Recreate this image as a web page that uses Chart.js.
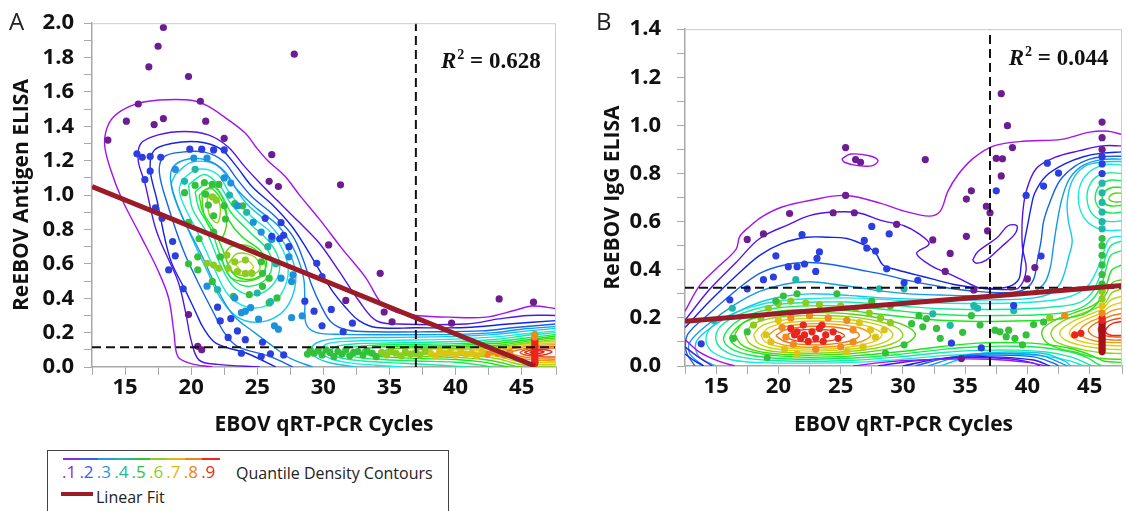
<!DOCTYPE html>
<html>
<head>
<meta charset="utf-8">
<script src="https://cdn.jsdelivr.net/npm/chart.js@4.4.0/dist/chart.umd.min.js"></script>
<style>
  body { margin:0; width:1126px; height:511px; overflow:hidden; background:#fff; position:relative; font-family:'Open Sans', sans-serif; }
  .panel { position:absolute; top:0; }
  .tag { position:absolute; top:4px; font-size:24px; color:#222; font-family:'Open Sans', sans-serif; }
  #legend { position:absolute; left:47px; top:450px; width:402px; height:62px; border:1px solid #444; box-sizing:border-box; }
  #legend .bar { position:absolute; left:15px; top:7px; display:flex; }
  #legend .bar div { width:17.4px; height:2px; }
  #legend .nums { position:absolute; left:14px; top:11px; display:flex; font-size:17px; line-height:20px; }
  #legend .nums span { width:17.4px; }
  #legend .txt { position:absolute; font-size:16px; line-height:20px; color:#222; }
  #legend .fit { position:absolute; left:13px; top:41px; width:32px; height:4px; background:#9b1b27; }
</style>
</head>
<body>
<div class="panel" style="left:0;width:560px;height:440px"><canvas id="chartA" width="560" height="440"></canvas></div>
<div class="panel" style="left:600px;width:526px;height:440px"><canvas id="chartB" width="526" height="440"></canvas></div>
<div class="tag" style="left:9px">A</div>
<div class="tag" style="left:596px">B</div>
<div id="legend">
  <div class="bar" id="legendBar"></div>
  <div class="nums" id="legendNums"></div>
  <div class="txt" style="left:188px;top:12px">Quantile Density Contours</div>
  <div class="fit"></div>
  <div class="txt" style="left:48px;top:36px">Linear Fit</div>
</div>
<script>
// ---- data: panel A (antigen ELISA) ----
const aPts1 = [[17.9,1.975],[17.5,1.866],[16.8,1.746],[19.8,1.69],[27.8,1.82],[20.7,1.546],[16.0,1.53],[15.1,1.43],[17.2,1.41],[17.9,1.445],[21.1,1.43],[13.7,1.32],[22.5,1.33],[26.1,1.235],[25.9,1.08],[26.6,1.05],[31.3,1.06],[30.4,0.71],[34.3,0.545],[31.7,0.387],[34.6,0.32],[35.2,0.262],[39.7,0.255],[43.3,0.396],[45.9,0.377],[19.8,0.305],[20.5,0.12],[20.8,0.1]];
const aPts2 = [[15.9,1.24],[16.3,1.22],[16.9,1.225],[17.7,1.22],[16.5,1.09],[16.9,1.14],[17.8,0.866],[18.6,0.73],[18.8,0.647],[18.3,0.565],[19.4,0.455],[19.9,1.267],[20.8,1.267],[21.7,1.263],[22.5,1.263],[17.3,0.926],[25.6,0.865],[26.8,0.84],[27.0,0.766],[27.4,0.7],[26.1,0.76],[26.7,0.746],[29.5,0.603],[29.9,0.526],[28.6,0.383],[29.3,0.325],[30.6,0.335],[29.9,0.24],[31.5,0.205],[32.2,0.255],[22.0,0.348],[23.0,0.281],[23.5,0.21],[24.1,0.159],[25.4,0.144],[26.0,0.077],[25.3,0.061],[27.0,0.07],[23.8,0.08],[22.2,0.268],[22.8,0.172]];
const aPts3 = [[20.2,1.215],[21.2,1.215],[18.8,1.15],[22.5,1.1],[23.0,1.07],[23.5,0.938],[24.7,0.842],[25.3,0.785],[26.1,0.742],[27.4,0.641],[27.7,0.536],[26.8,0.517],[27.6,0.498],[28.4,0.297],[27.6,0.287],[26.3,0.24],[26.6,0.22],[25.1,0.278],[23.8,0.316],[23.3,0.402],[24.1,0.325],[24.5,0.345],[21.2,0.47]];
const aPts4 = [[19.5,1.08],[20.3,1.15],[22.9,1.0],[24.2,0.9],[25.8,0.7],[26.4,0.6],[22.0,0.45],[25.0,0.43],[26.0,0.38]];
const aPts5 = [[19.5,1.014],[20.3,1.056],[21.0,1.072],[21.6,1.062],[22.1,1.062],[21.1,1.005],[21.3,0.942],[21.7,0.88],[22.5,0.938],[22.6,0.861],[23.3,0.95],[23.9,0.938],[21.7,0.785],[20.6,0.746],[19.8,0.842],[20.5,0.641],[22.2,0.641],[25.3,0.612],[25.4,0.545],[25.9,0.517],[25.4,0.469],[24.4,0.421],[23.2,0.411],[25.9,0.373],[26.5,0.402],[21.6,0.498],[20.5,0.565],[19.8,0.6],
  [29.3,0.08],[29.6,0.095],[29.9,0.07],[30.2,0.1],[30.5,0.085],[30.8,0.06],[31.1,0.09],[31.4,0.075],[31.7,0.1],[32.0,0.065],[32.3,0.085],[32.6,0.09],[33.0,0.07],[33.3,0.095],[33.7,0.08],[34.0,0.06],[29.0,0.1],[28.8,0.075]];
const aPts6 = [[21.7,0.593],[21.2,0.603],[22.7,0.651],[23.3,0.612],[24.1,0.622],[24.6,0.545],[24.1,0.545],[23.5,0.555],[22.8,0.574],[22.1,0.574],[21.6,0.99],[21.9,0.97],
  [34.4,0.085],[34.8,0.07],[35.1,0.095],[35.5,0.08],[35.9,0.065],[36.2,0.09],[36.6,0.075],[37.0,0.085],[37.3,0.07],[37.7,0.095]];
const aPts7 = [[38.1,0.08],[38.5,0.065],[38.8,0.09],[39.2,0.075],[39.6,0.085],[40.0,0.07],[40.4,0.09],[40.8,0.075],[41.2,0.08],[41.6,0.065],[42.0,0.085]];
const aPts8 = [[42.4,0.075],[42.8,0.09],[43.2,0.08],[43.7,0.07],[44.1,0.085],[46,0.19],[46,0.175]];
const aPts9 = [[46,0.16],[46,0.145],[46,0.13],[46,0.115],[46,0.1],[46,0.085],[46,0.07],[46,0.055],[46,0.04],[46,0.03],[46,0.02]];

const aContourLevels = [1,2,3,4,5,6,7,8,9,10,11,12,13,14,15,16,17,18,19];
const aContourPaths = [
  [[21.6,0],[20,0.02],[19.0,0.06],[18.7,0.2],[18.3,0.4],[17.5,0.56],[16.2,0.76],[14.8,0.97],[13.9,1.15],[13.45,1.3],[13.8,1.42],[14.7,1.49],[16.3,1.54],[18.2,1.555],[20.1,1.55],[21.2,1.52],[22.5,1.455],[24.1,1.36],[24.9,1.28],[25.8,1.2],[27.1,1.11],[28.2,1.0],[29.7,0.86],[31.4,0.69],[33.2,0.52],[34.4,0.37],[35.5,0.32],[37.0,0.3],[39.5,0.29],[42.3,0.29],[44.5,0.33],[45.8,0.355],[47.6,0.34]],
  [[25.2,0],[22,0.015],[20.6,0.04],[20.0,0.155],[19.6,0.31],[19.0,0.5],[17.4,0.785],[16.5,1.07],[16.0,1.2],[16.2,1.3],[17.5,1.35],[19.5,1.37],[21.3,1.35],[22.8,1.28],[24,1.17],[25.2,1.07],[26.5,0.97],[28.2,0.84],[29.7,0.72],[31.2,0.556],[32.7,0.384],[34.0,0.27],[35.7,0.25],[40.8,0.25],[43.3,0.28],[45.5,0.3],[47.6,0.3]],
  [[26.4,0],[24.2,0.08],[21.9,0.137],[20.9,0.23],[20.4,0.31],[19.6,0.44],[18.4,0.632],[17.4,0.976],[16.9,1.15],[17.2,1.26],[18.5,1.3],[20.5,1.31],[22.2,1.27],[23.4,1.17],[24.6,1.05],[26.2,0.94],[27.6,0.82],[28.8,0.68],[29.8,0.55],[30.7,0.44],[31.7,0.345],[32.7,0.27],[34.0,0.23],[37,0.228],[40.8,0.23],[44,0.25],[47.6,0.27]],
  [[27.7,0],[26,0.06],[23.5,0.12],[22.5,0.2],[21.6,0.33],[20.6,0.48],[19.4,0.68],[18.2,0.95],[17.6,1.13],[17.9,1.22],[19.3,1.25],[21,1.25],[22.4,1.2],[23.4,1.1],[24.6,0.99],[26.3,0.88],[27.7,0.76],[28.5,0.62],[29.1,0.48],[29.8,0.36],[30.6,0.26],[31.8,0.215],[34,0.205],[38,0.205],[42,0.21],[44.5,0.23],[47.6,0.25]],
  [[29.2,0],[27.5,0.05],[26.2,0.12],[24.8,0.2],[23.2,0.3],[22,0.45],[20.8,0.65],[19.3,0.88],[18.5,1.06],[18.6,1.16],[19.8,1.21],[21.3,1.2],[22.5,1.14],[23.5,1.03],[25,0.92],[26.6,0.82],[27.8,0.68],[28.5,0.52],[28.6,0.38],[28.7,0.25],[29.5,0.2],[31.5,0.19],[35,0.188],[40,0.19],[43,0.2],[45,0.22],[47.6,0.235]],
  [[18.8,1.12],[20,1.19],[21.8,1.18],[23,1.08],[24.2,0.95],[25.8,0.84],[27.2,0.7],[27.9,0.55],[27.6,0.4],[26.6,0.3],[25,0.26],[23.5,0.29],[22.3,0.39],[21.2,0.56],[20,0.76],[18.9,0.95],[18.5,1.06],[18.8,1.12], null,
   [47.6,0.225],[45.5,0.21],[43,0.19],[40,0.178],[35,0.172],[31.5,0.168],[29.8,0.15],[29.1,0.11],[29.4,0.06],[30.5,0.025],[32.5,0]],
  [[19.3,1.09],[20.5,1.15],[22,1.12],[23,1.0],[24.5,0.88],[26.3,0.76],[27.3,0.6],[27,0.45],[25.8,0.36],[24.2,0.35],[22.8,0.42],[21.7,0.58],[20.5,0.78],[19.4,0.95],[19.1,1.03],[19.3,1.09], null,
   [47.6,0.21],[45.5,0.195],[43,0.175],[40,0.162],[35,0.155],[32,0.15],[30.3,0.135],[29.8,0.1],[30.2,0.06],[31.5,0.03],[34,0.01],[36,0]],
  [[19.8,1.06],[21,1.12],[22.2,1.05],[23,0.95],[24.5,0.83],[26,0.72],[26.7,0.6],[26.2,0.48],[24.8,0.42],[23.3,0.46],[22.3,0.58],[21.2,0.78],[20.1,0.92],[19.8,1.06], null,
   [47.6,0.2],[45.5,0.185],[43,0.16],[40,0.148],[35,0.14],[32.5,0.135],[31,0.12],[30.6,0.09],[31.2,0.055],[33,0.035],[36,0.022],[39,0.01],[41,0]],
  [[20.3,1.02],[21.3,1.07],[22.3,1.0],[23,0.9],[24.5,0.78],[25.8,0.68],[26.1,0.58],[25.5,0.5],[24.2,0.47],[23,0.52],[22.2,0.65],[21.5,0.8],[20.6,0.92],[20.3,1.02], null,
   [47.6,0.19],[45.5,0.17],[43,0.148],[40,0.136],[36,0.13],[33.5,0.125],[31.9,0.11],[31.6,0.085],[32.3,0.06],[34,0.045],[37,0.035],[40,0.028],[42,0.01],[42.8,0]],
  [[20.6,1.0],[21.5,1.04],[22.3,0.97],[22.8,0.86],[23.8,0.76],[25.2,0.68],[25.7,0.6],[25.2,0.53],[24.1,0.51],[23.1,0.55],[22.4,0.68],[21.7,0.8],[20.9,0.9],[20.6,1.0], null,
   [47.6,0.18],[45.6,0.16],[43.2,0.138],[40,0.126],[36,0.12],[34,0.115],[33,0.1],[33,0.08],[34.2,0.062],[37,0.05],[40,0.044],[42,0.03],[43.2,0.012],[44,0]],
  [[20.8,1.02],[21.7,1.05],[22.4,0.98],[22.7,0.85],[22.3,0.75],[21.7,0.78],[21.0,0.88],[20.8,1.02], null,
   [22.3,0.62],[23,0.7],[24.5,0.7],[25.5,0.62],[25.5,0.54],[24.3,0.5],[23,0.52],[22.3,0.62], null,
   [47.6,0.17],[45.6,0.152],[43.4,0.128],[40,0.118],[37,0.112],[35.2,0.105],[34.6,0.09],[35.3,0.072],[37.5,0.062],[40,0.056],[42,0.045],[43.5,0.025],[44.5,0.005],[45,0]],
  [[21.2,0.98],[21.8,1.0],[22.2,0.93],[22.0,0.84],[21.4,0.88],[21.2,0.98], null,
   [22.8,0.6],[23.5,0.66],[24.8,0.64],[25.2,0.57],[24.3,0.53],[23.2,0.55],[22.8,0.6], null,
   [47.6,0.16],[45.7,0.145],[43.6,0.122],[40.5,0.11],[38,0.105],[36.8,0.095],[37.2,0.078],[39,0.07],[41.5,0.063],[43.2,0.048],[44.3,0.025],[45.5,0.008],[47.6,0.005]],
  [[23.3,0.6],[24.2,0.62],[24.7,0.58],[24,0.55],[23.3,0.6], null,
   [47.6,0.15],[45.8,0.14],[43.8,0.118],[41.5,0.104],[39.5,0.098],[38.8,0.088],[39.8,0.078],[41.8,0.072],[43.4,0.058],[44.5,0.035],[45.8,0.018],[47.6,0.015]],
  [[47.6,0.14],[46,0.132],[44,0.112],[42.3,0.1],[41.2,0.09],[41.8,0.08],[43.2,0.07],[44.3,0.05],[45.5,0.03],[47.6,0.025]],
  [[47.6,0.13],[46,0.125],[44.4,0.108],[43.3,0.09],[43.8,0.07],[44.8,0.052],[46,0.04],[47.6,0.035]],
  [[47.6,0.12],[46,0.118],[44.8,0.1],[44.2,0.085],[44.8,0.065],[46,0.05],[47.6,0.045]],
  [[47.6,0.11],[46,0.11],[45.1,0.095],[44.9,0.082],[45.5,0.067],[46.5,0.06],[47.6,0.058]],
  [[45.2,0.085],[45.8,0.1],[46.6,0.102],[47.3,0.088],[46.6,0.07],[45.8,0.07],[45.2,0.085]],
  [[45.6,0.085],[46.1,0.095],[46.7,0.088],[46.1,0.077],[45.6,0.085]]
];
const aFitX = [12.5, 46.0];
const aFitY = [1.049, 0.006];
const aCutY = 0.115;

// ---- data: panel B (IgG ELISA) ----
const bPts1 = [[37.9,1.132],[38.4,0.999],[38.8,0.908],[46.0,1.014],[46.0,0.949],[25.4,0.908],[26.2,0.858],[26.6,0.847],[31.8,0.858],[37.5,0.863],[38.0,0.861],[37.9,0.79],[35.5,0.728],[35.1,0.694],[36.7,0.664],[37.0,0.637],[36.8,0.562],[35.1,0.539],[32.4,0.524],[33.8,0.468],[33.4,0.393],[35.7,0.316],[25.4,0.709],[20.9,0.634],[24.4,0.637],[26.1,0.637],[29.5,0.589],[18.8,0.549],[17.5,0.526],[40.0,0.362],[40.6,0.409],[34.7,0.031],[46,0.9]];
const bPts2 = [[21.9,0.546],[19.8,0.458],[23.3,0.474],[23.1,0.447],[20.8,0.413],[21.5,0.413],[22.1,0.424],[23.0,0.393],[18.8,0.359],[19.6,0.37],[17.5,0.321],[16.1,0.275],[13.8,0.092],[27.5,0.58],[26.9,0.522],[27.1,0.49],[27.8,0.478],[28.9,0.549],[28.7,0.404],[30.1,0.346],[31.2,0.356],[37.5,0.728],[41.6,0.843],[42.5,0.802],[41.3,0.748],[39.9,0.709],[41.1,0.457],[46,0.87],[46,0.84],[46,0.8],[36.3,0.075],[33.9,0.095],[38.9,0.251]];
const bPts3 = [[21.4,0.359],[28.1,0.321],[30.1,0.321],[35.7,0.251],[36.0,0.24],[32.4,0.217],[33.8,0.169],[46,0.76],[46,0.72],[46,0.68],[46,0.64],[46,0.6],[46,0.57],[16.3,0.24],[14.8,0.19],[38.9,0.23]];
const bPts4 = [[20.4,0.291],[31.3,0.21],[31.9,0.197],[30.7,0.176],[31.6,0.163],[32.7,0.156],[33.0,0.115],[30.1,0.088],[37.4,0.149],[37.8,0.142],[38.3,0.122],[38.5,0.149],[39.0,0.115],[39.6,0.088],[39.9,0.129],[40.5,0.172],[41.3,0.183],[16.4,0.115],[17.5,0.142],[19.1,0.034],[28.6,0.054],[19.8,0.27],[21.5,0.3],[24.7,0.3],[27.5,0.27],[29.0,0.25],[34.8,0.14],[36.2,0.17],[46,0.53],[46,0.5],[46,0.46],[46,0.42],[46,0.38],[46,0.34],[35.5,0.21]];
const bPts5 = [[19.2,0.24],[20.0,0.26],[21.0,0.27],[22.2,0.262],[23.3,0.255],[25.0,0.25],[26.2,0.24],[27.3,0.22],[28.2,0.2],[29.0,0.18],[18.6,0.2],[18.0,0.17],[41.8,0.2],[46,0.31],[46,0.28]];
const bPts6 = [[19.0,0.13],[19.4,0.1],[20.0,0.19],[20.5,0.07],[26.5,0.18],[27.4,0.15],[27.8,0.12],[26.8,0.08],[25.5,0.06],[21.5,0.05],[28.5,0.15],[46,0.25]];
const bPts7 = [[20.3,0.16],[20.6,0.12],[21.0,0.2],[21.2,0.09],[25.5,0.19],[26.0,0.15],[26.0,0.1],[25.0,0.08],[24.0,0.2],[22.5,0.21],[43.0,0.21],[23.0,0.07],[46,0.22]];
const bPts8 = [[21.0,0.156],[21.5,0.142],[22.1,0.129],[22.7,0.142],[23.3,0.156],[23.8,0.129],[24.4,0.142],[21.8,0.115],[22.4,0.102],[23.0,0.115],[23.6,0.102],[24.8,0.115],[21.3,0.129],[22.0,0.17],[23.5,0.17],[43.8,0.129],[44.3,0.136],[46,0.2],[46,0.19]];
const bPts9 = [[46,0.18],[46,0.17],[46,0.16],[46,0.15],[46,0.14],[46,0.13],[46,0.12],[46,0.11],[46,0.1],[46,0.09],[46,0.08],[46,0.07],[46,0.06]];

const bContourLevels = [1,2,3,4,5,6,7,8,9,10,11,12,13,14,15,16,17,18];
const bContourPaths = [
  [[12.5,0.228],[13.7,0.336],[15.0,0.404],[16.6,0.485],[16.9,0.539],[17.7,0.58],[18.7,0.621],[20.3,0.661],[22.5,0.688],[25.4,0.709],[28.3,0.675],[30.1,0.644],[32.1,0.623],[33.0,0.644],[33.6,0.725],[34.4,0.793],[35.6,0.861],[37.3,0.915],[39.9,0.935],[42.75,0.942],[45.0,0.972],[46.5,0.976],[47.6,0.962], null,
   [25.1,0.861],[25.8,0.881],[27.3,0.874],[28,0.854],[27.55,0.833],[26.4,0.833],[25.3,0.847],[25.1,0.861], null,
   [12.5,0.11],[13.6,0.06],[15.2,0.02],[16.5,0], null,
   [26,0],[29,0.018],[33,0.028],[37,0.028],[40,0.015],[41.5,0]],
  [[12.5,0.19],[14.5,0.32],[16.6,0.43],[18.5,0.53],[20.9,0.59],[22.5,0.625],[24.4,0.64],[26.4,0.637],[28.4,0.603],[30.1,0.583],[31.3,0.549],[32.1,0.508],[31.1,0.468],[32.4,0.413],[33.6,0.386],[34.7,0.359],[36.15,0.325],[38.2,0.318],[39.3,0.325],[39.9,0.4],[39.6,0.495],[39.6,0.617],[39.9,0.725],[40.7,0.82],[42.2,0.867],[44.2,0.895],[46.0,0.915],[47.6,0.915], null,
   [35.6,0.44],[36,0.474],[37.6,0.535],[38.45,0.583],[39.16,0.583],[39.0,0.549],[37.9,0.495],[36.7,0.44],[35.9,0.427],[35.6,0.44], null,
   [12.5,0.08],[13.5,0.04],[14.7,0], null,
   [28,0],[31,0.022],[35,0.035],[38.5,0.03],[40.5,0.012],[41,0]],
  [[12.5,0.16],[14.5,0.27],[16.5,0.37],[18.5,0.46],[20.3,0.51],[22.3,0.535],[24,0.535],[25.5,0.53],[27,0.5],[27.8,0.47],[28.4,0.42],[29.5,0.4],[31,0.38],[32.5,0.36],[34,0.34],[35.5,0.328],[37,0.322],[38.5,0.33],[39.3,0.36],[39.5,0.42],[39.7,0.5],[40,0.58],[40.3,0.66],[40.6,0.72],[41.5,0.79],[43,0.84],[44.5,0.87],[46,0.885],[47.6,0.89], null,
   [12.5,0.05],[13.3,0.02],[14,0], null,
   [30,0],[33,0.03],[37,0.038],[40.5,0.025],[41.8,0]],
  [[13.3,0],[12.6,0.06],[12.7,0.13],[14.5,0.22],[16.5,0.31],[18.5,0.385],[20.5,0.42],[22.5,0.43],[24.5,0.42],[26.5,0.4],[28.5,0.38],[30.5,0.355],[32.5,0.335],[34.5,0.318],[36.5,0.308],[38.5,0.305],[39.8,0.32],[40.5,0.36],[40.8,0.44],[41.1,0.52],[41.3,0.6],[41.8,0.68],[42.6,0.77],[43.8,0.83],[45,0.86],[46,0.87],[47.6,0.872], null,
   [31,0],[34,0.038],[37.5,0.045],[40.5,0.038],[42.2,0.01],[42.5,0]],
  [[14,0],[12.9,0.05],[12.9,0.1],[14.5,0.18],[16.5,0.255],[18.5,0.31],[20.5,0.34],[22.5,0.35],[24.5,0.34],[26.5,0.325],[28.5,0.31],[30.5,0.3],[33,0.295],[35.5,0.292],[38,0.294],[40.2,0.305],[41.3,0.34],[41.8,0.4],[42.1,0.5],[42.4,0.6],[42.8,0.7],[43.4,0.78],[44.5,0.835],[46,0.858],[47.6,0.86], null,
   [32,0],[35,0.045],[38,0.052],[41,0.045],[42.8,0.01],[43.2,0]],
  [[15,0],[13.6,0.04],[13.4,0.1],[14.6,0.16],[16.5,0.22],[18.5,0.265],[20.5,0.29],[22.5,0.3],[24.5,0.297],[26.5,0.29],[28.5,0.283],[31,0.278],[34,0.275],[37,0.275],[40,0.28],[41.8,0.3],[42.6,0.34],[43,0.39],[43.3,0.45],[43.6,0.52],[43.3,0.6],[43.2,0.68],[43.6,0.77],[44.6,0.83],[46,0.848],[47.6,0.85], null,
   [33,0],[36,0.05],[39,0.058],[41.5,0.05],[43,0.02],[43.5,0]],
  [[47.6,0.835],[46.5,0.838],[45.2,0.815],[44.3,0.76],[44.1,0.69],[44.5,0.62],[45.4,0.578],[46.5,0.563],[47.6,0.566], null,
   [47.6,0.54],[46.6,0.53],[46.1,0.47],[45.6,0.4],[44.8,0.33],[43.5,0.29],[41.5,0.27],[39,0.262],[36,0.26],[33,0.262],[30.5,0.27],[28,0.278],[25.5,0.283],[22.5,0.28],[20,0.27],[17.8,0.245],[15.8,0.205],[14.5,0.155],[14.2,0.1],[14.8,0.055],[16.3,0.025],[18.5,0.014],[22.5,0.012],[26.5,0.016],[30,0.028],[33,0.042],[36,0.05],[39,0.05],[41.5,0.04],[43.5,0.02],[44.5,0]],
  [[47.6,0.8],[46.5,0.803],[45.5,0.785],[44.9,0.74],[44.8,0.69],[45.1,0.64],[45.9,0.607],[46.8,0.6],[47.6,0.604], null,
   [47.6,0.52],[46.7,0.5],[46.2,0.44],[45.8,0.37],[45.1,0.3],[44,0.26],[42,0.245],[39.5,0.237],[36,0.235],[33,0.238],[30.5,0.247],[28,0.258],[25.5,0.266],[22.5,0.265],[20,0.256],[18,0.235],[16.3,0.2],[15.2,0.155],[15,0.105],[15.6,0.065],[17,0.037],[19.5,0.023],[22.5,0.02],[26,0.024],[29.5,0.037],[33,0.055],[36,0.065],[39,0.066],[41.5,0.058],[43.5,0.038],[44.8,0.01],[45.2,0]],
  [[47.6,0.77],[46.6,0.772],[45.9,0.755],[45.5,0.72],[45.5,0.68],[45.9,0.65],[46.7,0.636],[47.6,0.64], null,
   [47.6,0.48],[46.7,0.46],[46.3,0.4],[45.9,0.33],[45,0.265],[43.5,0.227],[41,0.213],[38,0.21],[35,0.21],[32.5,0.216],[30.5,0.225],[28,0.238],[25.5,0.249],[22.5,0.25],[20,0.242],[18.2,0.223],[16.9,0.193],[16,0.155],[15.6,0.11],[16.2,0.072],[17.6,0.047],[19.8,0.032],[22.5,0.028],[26,0.033],[29.5,0.047],[33,0.068],[36,0.08],[39,0.082],[41.5,0.075],[43.5,0.058],[44.8,0.035],[45.6,0.01],[46,0]],
  [[47.6,0.742],[46.8,0.742],[46.2,0.725],[46,0.7],[46.2,0.675],[46.8,0.665],[47.6,0.668], null,
   [47.6,0.42],[46.8,0.4],[46.3,0.33],[45.6,0.26],[44.5,0.215],[42.5,0.195],[40,0.188],[36,0.185],[33,0.19],[30.5,0.202],[28,0.216],[25.5,0.23],[22.5,0.235],[20,0.228],[18.5,0.21],[17.3,0.183],[16.5,0.15],[16.1,0.115],[16.7,0.08],[18,0.057],[20,0.042],[22.5,0.036],[26,0.042],[29.5,0.058],[33,0.08],[36,0.095],[39,0.097],[41.5,0.09],[43.3,0.075],[44.6,0.055],[45.5,0.035],[46.2,0.02],[47.6,0.015]],
  [[16.5,0.133],[17.2,0.18],[18.8,0.208],[21,0.22],[23.5,0.222],[26,0.215],[28.5,0.195],[30.3,0.165],[31,0.13],[30.3,0.095],[28.5,0.068],[26,0.052],[23,0.045],[20.5,0.048],[18.3,0.062],[17,0.09],[16.5,0.133], null,
   [47.6,0.718],[47,0.718],[46.6,0.705],[46.6,0.69],[47,0.682],[47.6,0.683], null,
   [47.6,0.36],[46.8,0.345],[46.2,0.29],[45.2,0.25],[43.7,0.22],[42.2,0.19],[41.2,0.15],[41.4,0.105],[42.4,0.075],[43.8,0.058],[45,0.04],[46.2,0.03],[47.6,0.028]],
  [[17.3,0.13],[17.9,0.172],[19.3,0.197],[21.3,0.208],[23.5,0.21],[25.8,0.204],[28,0.186],[29.5,0.16],[30,0.128],[29.4,0.098],[27.8,0.074],[25.5,0.06],[23,0.053],[20.6,0.056],[18.8,0.068],[17.7,0.094],[17.3,0.13], null,
   [47.6,0.32],[46.8,0.305],[46.2,0.26],[45,0.23],[43.6,0.205],[42.5,0.175],[41.9,0.14],[42.2,0.105],[43.2,0.083],[44.5,0.067],[46,0.055],[47.6,0.052]],
  [[18,0.13],[18.6,0.165],[19.9,0.187],[21.7,0.197],[23.5,0.198],[25.6,0.193],[27.5,0.178],[28.8,0.155],[29.2,0.128],[28.6,0.1],[27.2,0.08],[25.3,0.068],[23,0.062],[20.9,0.065],[19.3,0.076],[18.3,0.098],[18,0.13], null,
   [47.6,0.29],[46.7,0.275],[46.1,0.24],[45,0.215],[43.8,0.19],[42.9,0.16],[42.6,0.135],[43,0.11],[44,0.09],[45.3,0.077],[46.5,0.07],[47.6,0.068]],
  [[18.6,0.128],[19.2,0.158],[20.4,0.177],[22,0.186],[23.5,0.187],[25.3,0.182],[27,0.168],[28,0.148],[28.3,0.126],[27.7,0.102],[26.5,0.085],[24.9,0.074],[23,0.07],[21.2,0.073],[19.8,0.083],[18.9,0.102],[18.6,0.128], null,
   [47.6,0.265],[46.7,0.25],[46,0.222],[45,0.2],[44.1,0.177],[43.5,0.152],[43.4,0.13],[43.9,0.11],[44.9,0.095],[46.2,0.086],[47.6,0.084]],
  [[19.2,0.127],[19.8,0.152],[20.9,0.168],[22.3,0.175],[23.6,0.176],[25.1,0.171],[26.5,0.159],[27.2,0.142],[27.4,0.125],[26.8,0.104],[25.7,0.09],[24.5,0.081],[23,0.078],[21.5,0.08],[20.3,0.089],[19.5,0.105],[19.2,0.127], null,
   [47.6,0.24],[46.7,0.228],[46,0.205],[45.1,0.185],[44.4,0.162],[44.2,0.138],[44.6,0.118],[45.5,0.104],[46.6,0.098],[47.6,0.097]],
  [[19.8,0.126],[20.4,0.147],[21.4,0.159],[22.6,0.165],[23.8,0.164],[25,0.158],[26,0.147],[26.5,0.128],[26,0.108],[25,0.096],[23.8,0.089],[22.6,0.088],[21.4,0.092],[20.4,0.104],[19.8,0.126], null,
   [47.6,0.218],[46.7,0.208],[46,0.19],[45.3,0.172],[44.9,0.15],[45.2,0.128],[45.9,0.114],[46.8,0.108],[47.6,0.108]],
  [[20.6,0.126],[21.2,0.143],[22.2,0.151],[23.2,0.153],[24.3,0.148],[25,0.138],[25.3,0.125],[24.8,0.112],[23.8,0.103],[22.6,0.1],[21.5,0.104],[20.9,0.113],[20.6,0.126], null,
   [47.6,0.2],[46.8,0.192],[46.1,0.176],[45.7,0.155],[45.9,0.134],[46.5,0.123],[47.6,0.12]],
  [[47.6,0.185],[46.9,0.178],[46.4,0.16],[46.3,0.14],[46.7,0.128],[47.6,0.127]]
];
const bFitX = [12.5, 47.6];
const bFitY = [0.186, 0.335];
const bCutY = 0.325;

const cutX = 37.0;
const r2A = '0.628';
const r2B = '0.044';
const legendLabels = ['.1','.2','.3','.4','.5','.6','.7','.8','.9'];

// ---- styling ----
const pointPalette = ['#6b1d91','#2b3ee0','#1e90dc','#1fb8a8','#33c03c','#8ccc1e','#dcc414','#f08a20','#e8261e','#a8101a'];
const legendPalette = ['#8a2be2','#3a5af0','#2a9ae0','#20b8a0','#30c040','#90cc20','#e0b810','#f08020','#f02818'];
const contourHues = [280,258,236,218,203,190,176,160,140,120,100,82,64,50,38,28,16,6,355];
function contourColor(lvl) {
  const h = contourHues[lvl - 1];
  return 'hsl(' + h + ',85%,' + (h > 55 && h < 110 ? 45 : 50) + '%)';
}
const isMult = (v, m) => Math.abs(v / m - Math.round(v / m)) < 1e-6;

Chart.defaults.font.family = "'Open Sans', sans-serif";

const framePlugin = {
  id: 'frame',
  afterDraw(chart) {
    const { ctx, chartArea: a } = chart;
    ctx.save();
    ctx.strokeStyle = '#cccccc';
    ctx.lineWidth = 1;
    ctx.beginPath();
    ctx.moveTo(a.left, a.top + 0.5);
    ctx.lineTo(a.right - 0.5, a.top + 0.5);
    ctx.lineTo(a.right - 0.5, a.bottom);
    ctx.stroke();
    ctx.restore();
  }
};
const r2Plugin = {
  id: 'r2',
  afterDatasetsDraw(chart, args, opts) {
    const { ctx, scales } = chart;
    let px = scales.x.getPixelForValue(opts.x);
    const py = scales.y.getPixelForValue(opts.y);
    ctx.save();
    ctx.fillStyle = '#111';
    ctx.textBaseline = 'alphabetic';
    ctx.font = "italic bold 23px 'Liberation Serif'";
    ctx.fillText('R', px, py);
    px += ctx.measureText('R').width + 1;
    ctx.font = "bold 14px 'Liberation Serif'";
    ctx.fillText('2', px, py - 9);
    px += ctx.measureText('2').width;
    ctx.font = "bold 23px 'Liberation Serif'";
    ctx.fillText(' = ' + opts.text, px, py);
    ctx.restore();
  }
};

function buildChart(id, o) {
  const datasets = [];
  o.paths.forEach((path, i) => datasets.push({
    data: path.map(p => p ? { x: p[0], y: p[1] } : { x: null, y: null }),
    showLine: true, pointRadius: 0, borderWidth: 1.4, tension: 0.35,
    borderColor: contourColor(o.levels[i]), order: 5
  }));
  o.points.forEach(([pts, lvl]) => datasets.push({
    data: pts.map(p => ({ x: p[0], y: p[1] })),
    pointRadius: 3.6, backgroundColor: pointPalette[lvl - 1], borderWidth: 0, order: 4
  }));
  const dash = { showLine: true, pointRadius: 0, borderColor: '#111', borderWidth: 2, borderDash: [9, 5], order: 2 };
  datasets.push(Object.assign({ data: [{ x: cutX, y: 0 }, { x: cutX, y: o.yMax }] }, dash));
  datasets.push(Object.assign({ data: [{ x: 12.5, y: o.cutY }, { x: o.xMax, y: o.cutY }] }, dash));
  datasets.push({
    data: o.fitX.map((x, i) => ({ x, y: o.fitY[i] })),
    showLine: true, pointRadius: 0, borderColor: '#9b1b27', borderWidth: 5, order: 1
  });

  new Chart(document.getElementById(id), {
    type: 'scatter',
    data: { datasets },
    options: {
      responsive: false, animation: false, events: [],
      layout: { padding: { top: o.padTop, right: o.padRight, left: 0, bottom: 0 } },
      plugins: { legend: { display: false }, tooltip: { enabled: false }, r2: { x: o.r2x, y: o.r2y, text: o.r2 } },
      scales: {
        x: {
          type: 'linear', min: 12.5, max: o.xMax,
          border: { color: '#a8a8a8', width: 1.5 },
          grid: { drawOnChartArea: false, tickLength: 8, color: '#a8a8a8' },
          ticks: { stepSize: 2.5, autoSkip: false, maxRotation: 0, padding: 0, color: '#111',
            font: { size: 22, weight: 'bold' },
            callback: v => isMult(v, 5) ? String(Math.round(v)) : '' },
          title: { display: true, text: 'EBOV qRT-PCR Cycles', color: '#111',
            font: { size: 21, weight: 'bold' }, padding: { top: 0, bottom: 2 } },
          afterFit: s => { s.height = o.xAxisH; }
        },
        y: {
          type: 'linear', min: 0, max: o.yMax,
          border: { color: '#a8a8a8', width: 1.5 },
          grid: { drawOnChartArea: false, tickLength: 8, color: '#a8a8a8' },
          ticks: { stepSize: 0.1, autoSkip: false, padding: o.yPad, color: '#111',
            font: { size: 22, weight: 'bold' },
            callback: v => Math.round(v * 10) % 2 === 0 ? v.toFixed(1) : '' },
          title: { display: true, text: o.yTitle, color: '#111',
            font: { size: 21, weight: 'bold' }, padding: { top: o.yTitlePad } },
          afterFit: s => { s.width = o.yAxisW; }
        }
      }
    },
    plugins: [framePlugin, r2Plugin]
  });
}

buildChart('chartA', {
  paths: aContourPaths, levels: aContourLevels,
  points: [[aPts1,1],[aPts2,2],[aPts3,3],[aPts4,4],[aPts5,5],[aPts6,6],[aPts7,7],[aPts8,8],[aPts9,9]],
  fitX: aFitX, fitY: aFitY, cutY: aCutY, yMax: 2.0, xMax: 47.6,
  yTitle: 'ReEBOV Antigen ELISA', r2: r2A, r2x: 38.9, r2y: 1.74,
  padTop: 18, padRight: 3, xAxisH: 73, yAxisW: 92, yPad: 10, yTitlePad: 9
});
buildChart('chartB', {
  paths: bContourPaths, levels: bContourLevels,
  points: [[bPts1,1],[bPts2,2],[bPts3,4],[bPts4,5],[bPts5,6],[bPts6,7],[bPts7,8],[bPts8,9],[bPts9,10]],
  fitX: bFitX, fitY: bFitY, cutY: bCutY, yMax: 1.4, xMax: 47.6,
  yTitle: 'ReEBOV IgG ELISA', r2: r2B, r2x: 38.5, r2y: 1.25,
  padTop: 20, padRight: 0, xAxisH: 74, yAxisW: 85, yPad: 16, yTitlePad: 0
});

// legend
const bar = document.getElementById('legendBar');
const nums = document.getElementById('legendNums');
legendLabels.forEach((t, i) => {
  const seg = document.createElement('div');
  seg.style.background = legendPalette[i];
  bar.appendChild(seg);
  const s = document.createElement('span');
  s.textContent = t;
  s.style.color = legendPalette[i];
  nums.appendChild(s);
});
</script>
</body>
</html>
